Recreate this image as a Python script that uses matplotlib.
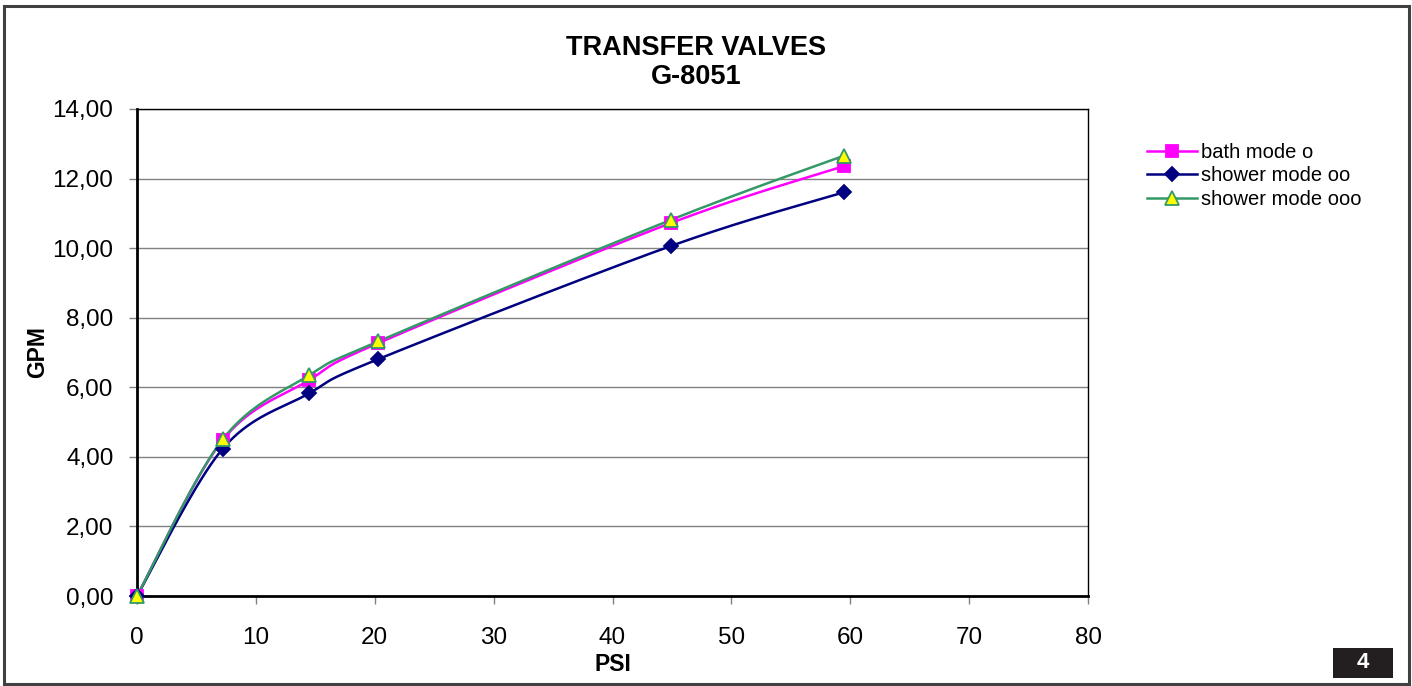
import numpy as np
import matplotlib
matplotlib.use("Agg")
import matplotlib.pyplot as plt
from matplotlib.patches import Rectangle
from matplotlib.ticker import FuncFormatter, MultipleLocator

plt.rcParams['font.family'] = ['Liberation Sans', 'DejaVu Sans']

title = "TRANSFER VALVES\nG-8051"
x_label = "PSI"
y_label = "GPM"
series_names = ["bath mode o", "shower mode oo", "shower mode ooo"]

bath_x = [0, 7.2, 14.5, 20.3, 44.9, 59.5]
bath_y = [0.0, 4.48, 6.21, 7.27, 10.72, 12.36]
shower2_x = [0, 7.2, 14.5, 20.3, 44.9, 59.5]
shower2_y = [0.0, 4.23, 5.83, 6.81, 10.06, 11.61]
shower3_x = [0, 7.2, 14.5, 20.3, 44.9, 59.5]
shower3_y = [0.0, 4.50, 6.35, 7.32, 10.81, 12.66]
page_number = "4"


def smooth(xs, ys, n=40):
    """Excel-like smoothing: cubic Bezier with Catmull-Rom control points."""
    xs = np.asarray(xs, float)
    ys = np.asarray(ys, float)
    P = np.column_stack([xs, ys])
    pts = []
    m = len(P)
    for i in range(m - 1):
        p0 = P[i - 1] if i > 0 else P[i]
        p1 = P[i]
        p2 = P[i + 1]
        p3 = P[i + 2] if i + 2 < m else P[i + 1]
        c1 = p1 + (p2 - p0) / 6.0
        c2 = p2 - (p3 - p1) / 6.0
        t = np.linspace(0, 1, n)[:, None]
        seg = ((1 - t) ** 3) * p1 + 3 * ((1 - t) ** 2) * t * c1 + 3 * (1 - t) * t ** 2 * c2 + t ** 3 * p2
        pts.append(seg if i == 0 else seg[1:])
    pts = np.vstack(pts)
    return pts[:, 0], pts[:, 1]


fig = plt.figure(figsize=(14.12, 6.86), dpi=100)
ax = fig.add_axes([137 / 1412, 1 - 596 / 686, (1088 - 137) / 1412, (596 - 109) / 686])

styles = [
    dict(color="#FF00FF", marker="s", mfc="#FF00FF", mec="#FF00FF", ms=9),
    dict(color="#000080", marker="D", mfc="#000080", mec="#000080", ms=7.5),
    dict(color="#339966", marker="^", mfc="#FFFF00", mec="#339966", ms=10),
]
data = [(bath_x, bath_y), (shower2_x, shower2_y), (shower3_x, shower3_y)]
handles = []
for (xs, ys), st, name in zip(data, styles, series_names):
    sx, sy = smooth(xs, ys)
    ax.plot(sx, sy, color=st["color"], lw=1.8, zorder=3, solid_capstyle="round")
    ax.plot(xs, ys, ls="none", marker=st["marker"], mfc=st["mfc"], mec=st["mec"],
            ms=st["ms"], mew=1.3, zorder=4, clip_on=False)
    h, = ax.plot([], [], color=st["color"], lw=1.8, marker=st["marker"], mfc=st["mfc"],
                 mec=st["mec"], ms=st["ms"], mew=1.3)
    handles.append(h)

ax.set_xlim(0, 80)
ax.set_ylim(0, 14)
ax.xaxis.set_major_locator(MultipleLocator(10))
ax.yaxis.set_major_locator(MultipleLocator(2))
ax.yaxis.set_major_formatter(FuncFormatter(lambda v, p: f"{v:.2f}".replace(".", ",")))
ax.xaxis.set_major_formatter(FuncFormatter(lambda v, p: f"{v:.0f}"))
ax.grid(axis="y", color="#808080", lw=1)
ax.set_axisbelow(True)
for s in ax.spines.values():
    s.set_color("black")
    s.set_linewidth(1.0)
ax.spines["left"].set_linewidth(2.0)
ax.spines["bottom"].set_linewidth(2.0)
ax.tick_params(axis="both", direction="out", length=6, width=1, color="#808080",
               labelsize=17.5)
ax.tick_params(axis="y", pad=11)
ax.tick_params(axis="x", pad=16)
ax.set_xlabel(x_label, fontsize=16.5, fontweight="bold", labelpad=3)
ax.set_ylabel(y_label, fontsize=16.5, fontweight="bold", labelpad=2.5)

fig.text(696 / 1412, 1 - 35 / 686, title, ha="center", va="top",
         fontsize=19.5, fontweight="bold", linespacing=1.15)

fig.legend(handles=handles, labels=series_names, loc="upper left",
           bbox_to_anchor=(1147 / 1412, 1 - 143 / 686), frameon=False,
           fontsize=14.5, handlelength=2.5, handletextpad=0.2, labelspacing=0.22,
           borderaxespad=0, borderpad=0)

# outer border
fig.patches.append(Rectangle((3.5 / 1412, 1 - 684 / 686), (1408.5 - 3.5) / 1412, (684 - 5.5) / 686,
                             transform=fig.transFigure, fill=False, edgecolor="#404040", lw=2.2))
# page number box
fig.patches.append(Rectangle((1333 / 1412, 1 - 678 / 686), 60 / 1412, 30 / 686,
                             transform=fig.transFigure, facecolor="#231f20", edgecolor="none"))
fig.text(1363 / 1412, 1 - 663 / 686, page_number, ha="center", va="center",
         color="white", fontsize=16, fontweight="bold")

fig.savefig("out.png", dpi=100)
